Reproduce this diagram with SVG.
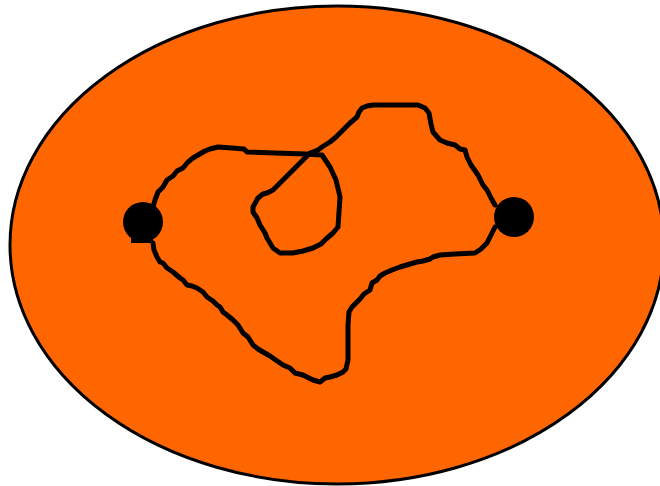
<svg xmlns="http://www.w3.org/2000/svg" width="660" height="486" viewBox="0 0 660 486">
<style>
.bg{fill:#FF6600;stroke:#000;stroke-width:3}
.dot{fill:#000}
.wire{fill:none;stroke:#000;stroke-width:5;stroke-linejoin:round;stroke-linecap:round}
</style>
<rect width="660" height="486" fill="#fff"/>
<g id="region"><ellipse class="bg" cx="337" cy="245" rx="327" ry="239"/></g>
<g id="connectors">
<path class="wire" d="M153,207 L155,200 L158,192 L163,187 L167,180 L173,176 L177,171 L183,168 L188,162 L193,158 L198,155 L205,151 L210,149 L218,147 L232,148 L244,149 L247,152 L275,153 L305,154 L322,155 L330,167 L336,180 L340,197 L338,227 L333,233 L326,239 L321,244 L313,248 L303,251 L293,253 L280,253 L273,248 L267,238 L265,233 L260,225 L257,218 L253,212 L253,207 L258,198 L263,194 L267,193 L273,190 L290,173 L310,153 L318,150 L322,147 L330,142 L336,137 L343,130 L350,123 L357,117 L359,112 L362,108 L367,106 L373,105 L418,105 L425,108 L429,113 L431,124 L433,132 L440,140 L447,143 L455,145 L460,149 L465,150 L467,157 L471,165 L478,175 L483,185 L487,190 L491,198 L495,205"/>
<path class="wire" d="M495,227 L490,237 L487,243 L481,249 L475,253 L455,254 L440,255 L433,257 L430,259 L423,261 L417,262 L410,264 L400,267 L392,270 L385,273 L380,276 L377,280 L372,283 L370,290 L364,294 L360,299 L352,307 L349,312 L348,325 L348,360 L346,369 L343,372 L337,375 L330,377 L325,378 L320,382 L313,380 L303,375 L295,373 L290,368 L283,365 L270,356 L263,352 L258,349 L253,345 L248,337 L243,333 L238,325 L233,320 L227,315 L223,312 L220,307 L217,305 L213,301 L207,297 L203,292 L197,288 L192,286 L187,285 L183,280 L180,278 L173,272 L167,268 L163,263 L160,262 L157,257 L154,250 L153,243"/>
</g>
<g id="node-left"><circle class="dot" cx="143" cy="222" r="20"/><rect class="dot" x="131" y="235" width="22" height="8"/></g>
<g id="node-right"><circle class="dot" cx="514" cy="217" r="20"/></g>
</svg>
